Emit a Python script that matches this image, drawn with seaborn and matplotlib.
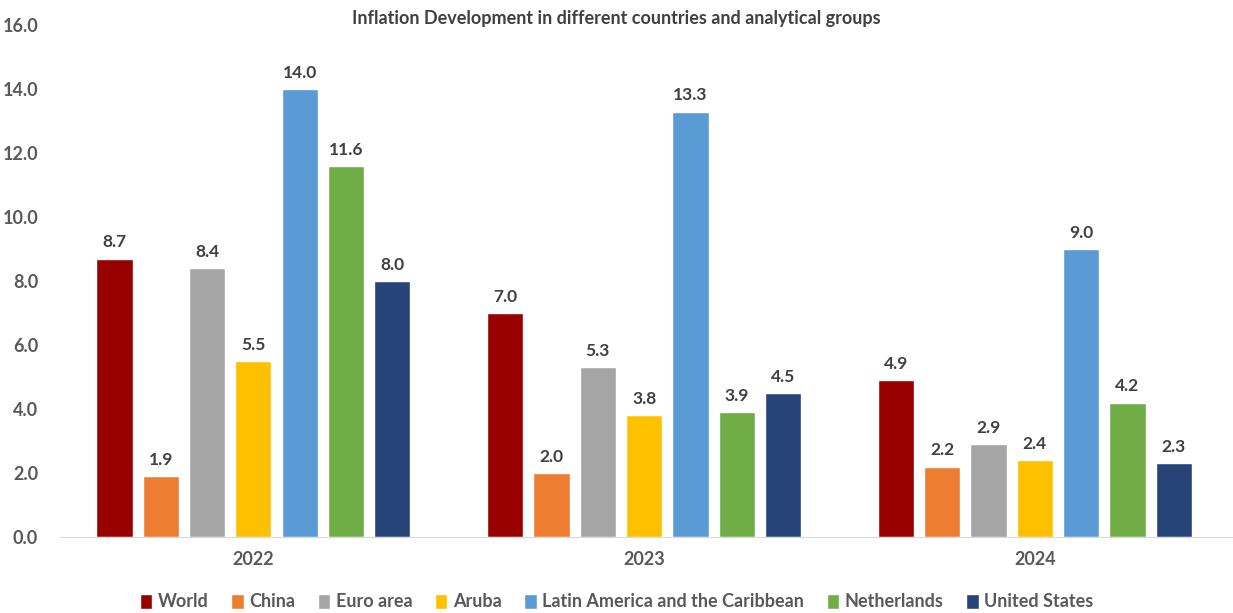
import pandas as pd
import seaborn as sns
import matplotlib.pyplot as plt
from matplotlib.patches import Patch

years = ["2022", "2023", "2024"]
countries = ["World", "China", "Euro area", "Aruba",
             "Latin America and the Caribbean", "Netherlands", "United States"]
world = [8.7, 7.0, 4.9]
china = [1.9, 2.0, 2.2]
euro_area = [8.4, 5.3, 2.9]
aruba = [5.5, 3.8, 2.4]
latin_america = [14.0, 13.3, 9.0]
netherlands = [11.6, 3.9, 4.2]
united_states = [8.0, 4.5, 2.3]
colors = ["#990000", "#ED7D31", "#A5A5A5", "#FFC000",
          "#5B9BD5", "#70AD47", "#264478"]

series = [world, china, euro_area, aruba, latin_america, netherlands, united_states]
rows = []
for name, vals in zip(countries, series):
    for year, v in zip(years, vals):
        rows.append({"Year": year, "Country": name, "Value": v})
df = pd.DataFrame(rows)

sns.set_style("white")
plt.rcParams["font.family"] = ["Lato", "DejaVu Sans"]

fig = plt.figure(figsize=(12.33, 6.13), dpi=100)
ax = fig.add_axes([0.049, 0.124, 0.95, 0.835])

sns.barplot(data=df, x="Year", y="Value", hue="Country", hue_order=countries,
            palette=colors, gap=0.22, width=0.83, saturation=1, ax=ax,
            legend=False, errorbar=None)

for cont in ax.containers:
    ax.bar_label(cont, fmt="%.1f", padding=6, fontsize=12.5,
                 fontweight="bold", color="#404040")

ax.set_ylim(0, 16)
ax.set_xlim(-0.494, 2.504)
ax.set_yticks(range(0, 17, 2))
ax.set_yticklabels([f"{v:.1f}" for v in range(0, 17, 2)])
ax.set_xlabel("")
ax.set_ylabel("")
for s in ["top", "right", "left"]:
    ax.spines[s].set_visible(False)
ax.spines["bottom"].set_color("#D9D9D9")
ax.tick_params(axis="y", length=0, labelsize=13, labelcolor="#595959", pad=16)
ax.tick_params(axis="x", length=0, labelsize=13, labelcolor="#595959", pad=10)
for lab in ax.get_yticklabels() + ax.get_xticklabels():
    lab.set_fontweight("bold")

fig.text(0.5, 0.97, "Inflation Development in different countries and analytical groups",
         ha="center", va="center", fontsize=13, fontweight="bold", color="#404040")

handles = [Patch(facecolor=c, label=n) for n, c in zip(countries, colors)]
leg = fig.legend(handles=handles, loc="center", bbox_to_anchor=(0.5, 0.018),
                 ncol=7, frameon=False, fontsize=13, handlelength=0.7,
                 handleheight=0.9, handletextpad=0.3, columnspacing=1.25)
for t in leg.get_texts():
    t.set_fontweight("bold")
    t.set_color("#595959")

fig.savefig("out.png", dpi=100)
